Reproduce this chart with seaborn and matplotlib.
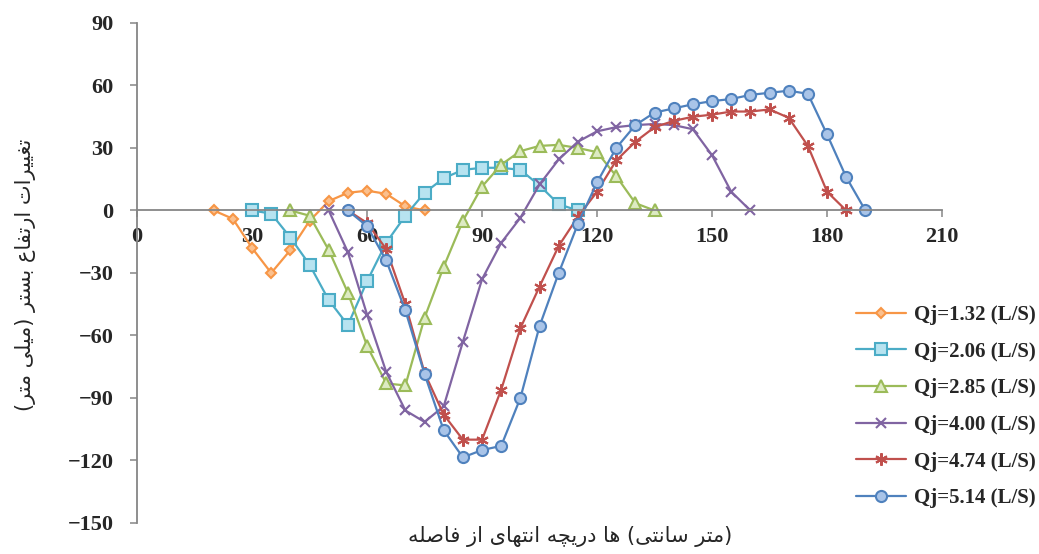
import numpy as np
import pandas as pd
import matplotlib
matplotlib.use('Agg')
import matplotlib.pyplot as plt
import seaborn as sns

sns.set_style('ticks')
plt.rcParams['font.family'] = ['Liberation Serif', 'DejaVu Serif']

# values: distance (cm) and bed level change (mm)
x_132 = [20, 25, 30, 35, 40, 45, 50, 55, 60, 65, 70, 75]
y_132 = [0, -4, -18, -30, -19, -5, 4.5, 8.5, 9.5, 8, 2, 0]

x_206 = [30, 35, 40, 45, 50, 55, 60, 65, 70, 75, 80, 85, 90, 95, 100, 105, 110, 115]
y_206 = [0, -1.5, -13, -26, -43, -55, -34, -15.5, -2.5, 8.5, 15.5, 19.5, 20.5, 20.5,
         19.5, 12, 3, 0]

x_285 = [40, 45, 50, 55, 60, 65, 70, 75, 80, 85, 90, 95, 100, 105, 110, 115, 120, 125,
         130, 135]
y_285 = [0, -2.5, -19, -39.5, -65, -83, -84, -51.5, -27, -5, 11.5, 22, 28.5, 31, 31.5,
         30, 28, 16.5, 3.5, 0]

x_400 = [50, 55, 60, 65, 70, 75, 80, 85, 90, 95, 100, 105, 110, 115, 120, 125, 130, 135,
         140, 145, 150, 155, 160]
y_400 = [0, -20, -50, -77.5, -96, -101.5, -94, -63, -33, -15.5, -3.5, 12.5, 24.5, 33, 38,
         40, 41, 41.5, 41, 39, 26.5, 9, 0]

x_474 = [55, 60, 65, 70, 75, 80, 85, 90, 95, 100, 105, 110, 115, 120, 125, 130, 135, 140,
         145, 150, 155, 160, 165, 170, 175, 180, 185]
y_474 = [0, -6, -18.5, -45, -78, -98, -110, -110, -86, -56.5, -36.5, -17, -3, 9, 24, 33,
         40, 43, 45, 46, 47.5, 47.5, 48.5, 44.5, 31, 9, 0]

x_514 = [55, 60, 65, 70, 75, 80, 85, 90, 95, 100, 105, 110, 115, 120, 125, 130, 135, 140,
         145, 150, 155, 160, 165, 170, 175, 180, 185, 190]
y_514 = [0, -7.5, -24, -48, -78.5, -105.5, -118.5, -115, -113, -90, -55.5, -30, -6.5, 13.5,
         30, 41, 47, 49, 51, 52.5, 53.5, 55.5, 56.5, 57.5, 56, 36.5, 16, 0]

labels = ['Qj=1.32 (L/S)', 'Qj=2.06 (L/S)', 'Qj=2.85 (L/S)',
          'Qj=4.00 (L/S)', 'Qj=4.74 (L/S)', 'Qj=5.14 (L/S)']
xs = [x_132, x_206, x_285, x_400, x_474, x_514]
ys = [y_132, y_206, y_285, y_400, y_474, y_514]

# styles: (line colour, marker, face, size)
styles = [
    ('#F79646', 'D', '#FBC08E', 5.5),
    ('#4BACC6', 's', '#B7E3F0', 8),
    ('#9BBB59', '^', '#DDEBC2', 8),
    ('#8064A2', 'x', '#8064A2', 7),
    ('#C0504D', (6, 2, 0), '#C0504D', 9),
    ('#4F81BD', 'o', '#A9C4E8', 8),
]

# simple Arabic/Persian shaping into presentation forms (iso, fin, ini, med)
FORMS = {
    'ا': ('\uFE8D', '\uFE8E', None, None),
    'ب': ('\uFE8F', '\uFE90', '\uFE91', '\uFE92'),
    'ت': ('\uFE95', '\uFE96', '\uFE97', '\uFE98'),
    'د': ('\uFEA9', '\uFEAA', None, None),
    'ر': ('\uFEAD', '\uFEAE', None, None),
    'ز': ('\uFEAF', '\uFEB0', None, None),
    'س': ('\uFEB1', '\uFEB2', '\uFEB3', '\uFEB4'),
    'ص': ('\uFEB9', '\uFEBA', '\uFEBB', '\uFEBC'),
    'ع': ('\uFEC9', '\uFECA', '\uFECB', '\uFECC'),
    'غ': ('\uFECD', '\uFECE', '\uFECF', '\uFED0'),
    'ف': ('\uFED1', '\uFED2', '\uFED3', '\uFED4'),
    'ل': ('\uFEDD', '\uFEDE', '\uFEDF', '\uFEE0'),
    'م': ('\uFEE1', '\uFEE2', '\uFEE3', '\uFEE4'),
    'ن': ('\uFEE5', '\uFEE6', '\uFEE7', '\uFEE8'),
    'ه': ('\uFEE9', '\uFEEA', '\uFEEB', '\uFEEC'),
    'ی': ('\uFEEF', '\uFEF0', '\uFEF3', '\uFEF4'),
    'چ': ('\uFB7A', '\uFB7B', '\uFB7C', '\uFB7D'),
}


def shape(word):
    out = []
    for i, ch in enumerate(word):
        prev = word[i - 1] if i > 0 else ''
        nxt = word[i + 1] if i + 1 < len(word) else ''
        iso, fin, ini, med = FORMS[ch]
        p = prev in FORMS and FORMS[prev][2] is not None
        n = ini is not None and nxt in FORMS
        out.append(med if (p and n) else fin if p else ini if n else iso)
    return ''.join(reversed(out))


xlabel = ' '.join(shape(w) for w in ['فاصله', 'از', 'انتهای', 'دریچه', 'ها']) \
    + ' (' + shape('سانتی') + ' ' + shape('متر') + ')'
ylabel = '(' + shape('متر') + ' ' + shape('میلی') + ') ' + shape('بستر') + ' ' \
    + shape('ارتفاع') + ' ' + shape('تغییرات')

fig = plt.figure(figsize=(10.39, 5.54), dpi=100)
ax = fig.add_axes([0.1319, 0.056, 0.7748, 0.9025])

for lab, x, y, (c, m, fc, ms) in zip(labels, xs, ys, styles):
    df = pd.DataFrame({'x': x, 'y': y})
    sns.lineplot(data=df, x='x', y='y', ax=ax, color=c, marker=m, markersize=ms,
                 markerfacecolor=fc, markeredgecolor=c, markeredgewidth=1.5,
                 linewidth=1.6, label=lab, estimator=None, sort=False)

ax.set_xlim(0, 210)
ax.set_ylim(-150, 90)
ax.set_xticks(np.arange(0, 211, 30))
ax.set_yticks(np.arange(-150, 91, 30))

for s in ['top', 'right']:
    ax.spines[s].set_visible(False)
ax.spines['bottom'].set_position(('data', 0))
for s in ['bottom', 'left']:
    ax.spines[s].set_color('#868686')
    ax.spines[s].set_linewidth(1.3)

ax.tick_params(axis='both', direction='out', length=5, width=1.1, color='#868686',
               labelsize=16)
ax.tick_params(axis='x', pad=7)
ax.tick_params(axis='y', pad=12)
for t in ax.get_xticklabels() + ax.get_yticklabels():
    t.set_fontweight('bold')

ax.set_xlabel(xlabel, family=['DejaVu Sans'], fontsize=15, va='center')
ax.xaxis.set_label_coords(0.538, -0.028)
ax.set_ylabel(ylabel, family=['DejaVu Sans'], fontsize=15, va='center')
ax.yaxis.set_label_coords(-0.139, 0.496)

leg = ax.legend(loc='center left', bbox_to_anchor=(848 / 1039, 0.266),
                bbox_transform=fig.transFigure, frameon=False, borderaxespad=0,
                borderpad=0.4, handlelength=2.4, handletextpad=0.35,
                labelspacing=0.8, prop={'family': 'Liberation Serif',
                                        'weight': 'bold', 'size': 15})

fig.savefig('out.png', dpi=100)
